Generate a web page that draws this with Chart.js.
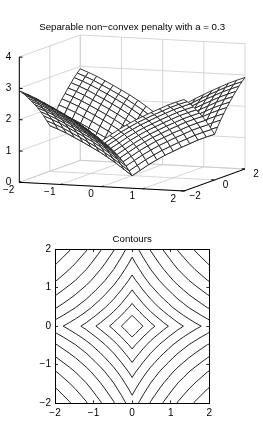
<!DOCTYPE html>
<html>
<head>
<meta charset="utf-8">
<style>
html,body{margin:0;padding:0;background:#fff;}
canvas{position:absolute;left:0;}
</style>
<script src="https://cdn.jsdelivr.net/npm/chart.js@4/dist/chart.umd.min.js"></script>
</head>
<body>
<canvas id="surface" width="263" height="218" style="top:0"></canvas>
<canvas id="contours" width="263" height="218" style="top:218px"></canvas>
<script>
// tick values
var xTicks=[-2,-1,0,1,2];
var yTicks=[-2,0,2];
var zTicks=[0,1,2,3,4];
var contourTicks=[-2,-1,0,1,2];

// mesh positions, same on both axes
var gridPos=[-2,-1.8,-1.6,-1.4,-1.2,-1,-0.8,-0.6,-0.4,-0.2,0,0.2,0.4,0.6,0.8,1,1.2,1.4,1.6,1.8,2];

// surface heights, one row per y (surface is mirrored in y)
var row0=[1.46,1.36,1.25,1.12,.99,.85,.71,.55,.38,.19,0,.19,.38,.55,.71,.85,.99,1.12,1.25,1.36,1.46];
var row1=[1.65,1.55,1.44,1.31,1.18,1.04,.90,.74,.57,.38,.19,.38,.57,.74,.90,1.04,1.18,1.31,1.44,1.55,1.65];
var row2=[1.84,1.74,1.63,1.50,1.37,1.23,1.09,.93,.76,.57,.38,.57,.76,.93,1.09,1.23,1.37,1.50,1.63,1.74,1.84];
var row3=[2.01,1.91,1.80,1.67,1.54,1.40,1.26,1.10,.93,.74,.55,.74,.93,1.10,1.26,1.40,1.54,1.67,1.80,1.91,2.01];
var row4=[2.17,2.07,1.96,1.83,1.70,1.56,1.42,1.26,1.09,.90,.71,.90,1.09,1.26,1.42,1.56,1.70,1.83,1.96,2.07,2.17];
var row5=[2.31,2.21,2.10,1.97,1.84,1.70,1.56,1.40,1.23,1.04,.85,1.04,1.23,1.40,1.56,1.70,1.84,1.97,2.10,2.21,2.31];
var row6=[2.45,2.35,2.24,2.11,1.98,1.84,1.70,1.54,1.37,1.18,.99,1.18,1.37,1.54,1.70,1.84,1.98,2.11,2.24,2.35,2.45];
var row7=[2.58,2.48,2.37,2.24,2.11,1.97,1.83,1.67,1.50,1.31,1.12,1.31,1.50,1.67,1.83,1.97,2.11,2.24,2.37,2.48,2.58];
var row8=[2.71,2.61,2.50,2.37,2.24,2.10,1.96,1.80,1.63,1.44,1.25,1.44,1.63,1.80,1.96,2.10,2.24,2.37,2.50,2.61,2.71];
var row9=[2.82,2.72,2.61,2.48,2.35,2.21,2.07,1.91,1.74,1.55,1.36,1.55,1.74,1.91,2.07,2.21,2.35,2.48,2.61,2.72,2.82];
var row10=[2.92,2.82,2.71,2.58,2.45,2.31,2.17,2.01,1.84,1.65,1.46,1.65,1.84,2.01,2.17,2.31,2.45,2.58,2.71,2.82,2.92];
var surfaceRows=[row10,row9,row8,row7,row6,row5,row4,row3,row2,row1,row0,row1,row2,row3,row4,row5,row6,row7,row8,row9,row10];

// contour lines in the x>0,y>0 quadrant, the other three are mirrored
var contour1=[[.28,0],[.19,.09],[.09,.19],[0,.28]];
var contour2=[[.59,0],[.48,.09],[.38,.19],[.28,.28],[.19,.38],[.09,.48],[0,.59]];
var contour3=[[.94,0],[.82,.09],[.70,.19],[.59,.28],[.48,.38],[.38,.48],[.28,.59],[.19,.70],[.09,.82],[0,.94]];
var contour4=[[1.33,0],[1.19,.09],[1.06,.19],[.94,.28],[.82,.38],[.70,.48],[.59,.59],[.48,.70],[.38,.82],[.28,.94],[.19,1.06],[.09,1.19],[0,1.33]];
var contour5=[[1.79,0],[1.63,.09],[1.47,.19],[1.33,.28],[1.19,.38],[1.06,.48],[.94,.59],[.82,.70],[.70,.82],[.59,.94],[.48,1.06],[.38,1.19],[.28,1.33],[.19,1.47],[.09,1.63],[0,1.79]];
var contour6=[[2,.16],[1.95,.19],[1.79,.28],[1.63,.38],[1.47,.48],[1.33,.59],[1.19,.70],[1.06,.82],[.94,.94],[.82,1.06],[.70,1.19],[.59,1.33],[.48,1.47],[.38,1.63],[.28,1.79],[.19,1.95],[.16,2]];
var contour7=[[2,.46],[1.95,.48],[1.79,.59],[1.63,.70],[1.47,.82],[1.33,.94],[1.19,1.06],[1.06,1.19],[.94,1.33],[.82,1.47],[.70,1.63],[.59,1.79],[.48,1.95],[.46,2]];
var contour8=[[2,.79],[1.95,.82],[1.79,.94],[1.63,1.06],[1.47,1.19],[1.33,1.33],[1.19,1.47],[1.06,1.63],[.94,1.79],[.82,1.95],[.79,2]];
var contour9=[[2,1.16],[1.95,1.19],[1.79,1.33],[1.63,1.47],[1.47,1.63],[1.33,1.79],[1.19,1.95],[1.16,2]];
var contour10=[[2,1.59],[1.95,1.63],[1.79,1.79],[1.63,1.95],[1.59,2]];
var contourLines=[contour1,contour2,contour3,contour4,contour5,contour6,contour7,contour8,contour9,contour10];

var FONT='"Liberation Sans", Helvetica, Arial, sans-serif';
var TITLE_SIZE=9.7;
var TICK_SIZE=10;
var INK='#222';
var GRID='#cbcbcb';

function minusSign(v){
  return String(v).replace('-','\u2212');
}

// 3d -> the flat scene scales. the view is a fixed axonometric one, measured from the box corners
function toScene(x,y,z){
  return {x:x+(y+2)*0.37, y:z-(x+2)*0.0693+(y+2)*0.1755};
}

function sceneLine(pts,color,width,filled){
  return {
    data:pts.map(function(p){return toScene(p[0],p[1],p[2]);}),
    showLine:true,
    pointRadius:0,
    borderColor:color,
    borderWidth:width,
    backgroundColor:'#fff',
    fill:filled?'shape':false,
    clip:false,
    tension:0
  };
}

var surfaceSets=[];

// back walls and floor
zTicks.forEach(function(z){
  surfaceSets.push(sceneLine([[-2,-2,z],[-2,2,z],[2,2,z]],GRID,0.8,false));
});
xTicks.forEach(function(x){
  surfaceSets.push(sceneLine([[x,-2,0],[x,2,0],[x,2,4]],GRID,0.8,false));
});
yTicks.forEach(function(y){
  surfaceSets.push(sceneLine([[2,y,0],[-2,y,0],[-2,y,4]],GRID,0.8,false));
});

// axis lines and their ticks
surfaceSets.push(sceneLine([[-2,-2,0],[-2,-2,4]],'#000',1,false));
surfaceSets.push(sceneLine([[-2,-2,0],[2,-2,0],[2,2,0]],'#000',1,false));
xTicks.forEach(function(x){
  surfaceSets.push(sceneLine([[x,-2,0],[x,-1.88,0]],'#000',1,false));
});
yTicks.forEach(function(y){
  surfaceSets.push(sceneLine([[2,y,0],[1.92,y,0]],'#000',1,false));
});
zTicks.forEach(function(z){
  surfaceSets.push(sceneLine([[-2,-2,z],[-1.92,-2,z]],'#000',1,false));
});

// mesh cells, far ones first so the near ones cover them
for(var j=gridPos.length-2;j>=0;j--){
  for(var i=0;i<gridPos.length-1;i++){
    surfaceSets.push(sceneLine([
      [gridPos[i],gridPos[j],surfaceRows[j][i]],
      [gridPos[i+1],gridPos[j],surfaceRows[j][i+1]],
      [gridPos[i+1],gridPos[j+1],surfaceRows[j+1][i+1]],
      [gridPos[i],gridPos[j+1],surfaceRows[j+1][i]],
      [gridPos[i],gridPos[j],surfaceRows[j][i]]
    ],INK,0.9,true));
  }
}
// chart.js paints the first dataset last
surfaceSets.reverse();

// x and y tick labels of the 3d box sit along the slanted axes
var slantedLabels={
  id:'slantedLabels',
  afterDraw:function(chart){
    var ctx=chart.ctx;
    function put(text,x,y,z){
      var p=toScene(x,y,z);
      ctx.fillText(text,chart.scales.x.getPixelForValue(p.x),chart.scales.y.getPixelForValue(p.y));
    }
    ctx.save();
    ctx.font=TICK_SIZE+'px '+FONT;
    ctx.fillStyle='#000';
    ctx.textAlign='center';
    ctx.textBaseline='middle';
    xTicks.forEach(function(x){put(minusSign(x),x,-2.7,-0.13);});
    yTicks.forEach(function(y){put(minusSign(y),2.27,y,-0.16);});
    ctx.restore();
  }
};

new Chart(document.getElementById('surface'),{
  type:'scatter',
  data:{datasets:surfaceSets},
  plugins:[slantedLabels],
  options:{
    responsive:false,
    animation:false,
    layout:{padding:{left:0,right:18,top:0,bottom:18}},
    plugins:{
      legend:{display:false},
      tooltip:{enabled:false},
      title:{
        display:true,
        fullSize:false,
        text:'Separable non\u2212convex penalty with a = 0.3',
        color:'#000',
        font:{family:FONT,size:TITLE_SIZE,weight:'normal',lineHeight:1.2},
        padding:{top:21.4,bottom:0}
      }
    },
    scales:{
      x:{type:'linear',display:false,min:-2,max:3.48},
      y:{
        type:'linear',
        min:-0.565,
        max:4.765,
        afterFit:function(s){s.width=19.3;},
        afterBuildTicks:function(s){s.ticks=zTicks.map(function(v){return {value:v};});},
        border:{display:false},
        grid:{display:false},
        ticks:{color:'#000',padding:0,font:{family:FONT,size:TICK_SIZE}}
      }
    }
  }
});

// contour plot
var contourSets=[];
var quadrants=[[1,1],[-1,1],[-1,-1],[1,-1]];
contourLines.forEach(function(line){
  quadrants.forEach(function(q){
    contourSets.push({
      data:line.map(function(p){return {x:p[0]*q[0],y:p[1]*q[1]};}),
      showLine:true,
      pointRadius:0,
      borderColor:INK,
      borderWidth:1,
      fill:false,
      tension:0
    });
  });
});

function contourAxis(position,labelled){
  var horizontal=position==='bottom'||position==='top';
  return {
    type:'linear',
    position:position,
    min:-2,
    max:2,
    afterBuildTicks:function(s){s.ticks=contourTicks.map(function(v){return {value:v};});},
    afterFit:function(s){
      if(horizontal) s.height=labelled?14:0;
      else s.width=labelled?20:0;
    },
    border:{display:true,color:'#000',width:1},
    grid:{drawOnChartArea:false,color:'#000',tickLength:-3,tickWidth:0.8},
    ticks:{
      display:labelled,
      color:'#000',
      padding:7,
      maxRotation:0,
      font:{family:FONT,size:TICK_SIZE},
      callback:function(v){return minusSign(v);}
    }
  };
}

new Chart(document.getElementById('contours'),{
  type:'scatter',
  data:{datasets:contourSets},
  options:{
    responsive:false,
    animation:false,
    layout:{padding:{left:35,right:53.7,top:0,bottom:18.7}},
    plugins:{
      legend:{display:false},
      tooltip:{enabled:false},
      title:{
        display:true,
        fullSize:false,
        text:'Contours',
        color:'#000',
        font:{family:FONT,size:TITLE_SIZE,weight:'normal',lineHeight:1.2},
        padding:{top:16,bottom:3.4}
      }
    },
    scales:{
      x:contourAxis('bottom',true),
      y:contourAxis('left',true),
      x2:contourAxis('top',false),
      y2:contourAxis('right',false)
    }
  }
});
</script>
</body>
</html>
